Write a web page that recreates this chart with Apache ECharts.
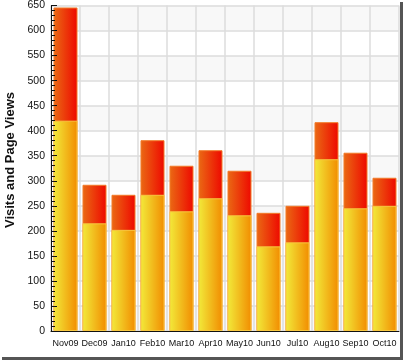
<!DOCTYPE html>
<html>
<head>
<meta charset="utf-8">
<script src="https://cdn.jsdelivr.net/npm/echarts@6/dist/echarts.min.js"></script>
<style>html,body{margin:0;padding:0;background:#fff}#c{width:404px;height:363px}</style>
</head>
<body>
<div id="c"></div>
<script>
const categories = ['Nov09','Dec09','Jan10','Feb10','Mar10','Apr10','May10','Jun10','Jul10','Aug10','Sep10','Oct10'];
const pageViews = [646, 292, 272, 381, 330, 361, 320, 236, 250, 417, 356, 306];
const visits = [420, 215, 202, 272, 239, 265, 231, 169, 177, 343, 245, 250];
const yTicks = [0, 650, 50];

const chart = echarts.init(document.getElementById('c'), null, {renderer: 'canvas'});
const grad = (a, b) => new echarts.graphic.LinearGradient(0, 0, 1, 0, [{offset: 0, color: a}, {offset: 1, color: b}]);
const gridLeft = 51, gridRight = 5;
chart.setOption({
  animation: false,
  textStyle: {fontFamily: 'Liberation Sans, Arial, sans-serif'},
  grid: {left: gridLeft, right: gridRight, top: 4, bottom: 32},
  xAxis: {
    type: 'category',
    data: categories,
    axisLine: {lineStyle: {color: '#111', width: 1}},
    axisTick: {inside: true, length: 5, interval: 0, lineStyle: {color: '#333'}},
    splitLine: {show: true, interval: 0, lineStyle: {color: '#dddddd', width: 1.5}},
    axisLabel: {color: '#111', fontSize: 9, margin: 8, interval: 0}
  },
  yAxis: [{
    type: 'value',
    min: yTicks[0], max: yTicks[1], interval: yTicks[2],
    axisLine: {show: true, lineStyle: {color: '#111', width: 1}},
    axisTick: {show: false},
    splitLine: {show: true, lineStyle: {color: '#dddddd', width: 1.5}},
    splitArea: {show: true, areaStyle: {color: ['#f8f8f8', '#ffffff']}},
    axisLabel: {color: '#111', fontSize: 10.5, margin: 6}
  }, {
    type: 'value', position: 'right', offset: -(404 - gridLeft - gridRight), z: 5,
    min: yTicks[0], max: yTicks[1], interval: yTicks[2],
    axisLine: {show: false},
    axisTick: {show: true, length: 6, lineStyle: {color: '#111'}},
    minorTick: {show: true, splitNumber: 5, length: 4, lineStyle: {color: '#111'}},
    splitLine: {show: false},
    axisLabel: {show: false}
  }],
  series: [
    {
      name: 'Page Views', type: 'bar', data: pageViews, barWidth: 24, barGap: '-100%',
      itemStyle: {color: grad('#ea6a14', '#ee0800'), borderColor: '#f27a28', borderWidth: 1}
    },
    {
      name: 'Visits', type: 'bar', data: visits, barWidth: 24,
      itemStyle: {color: grad('#f2ea3a', '#f28c00'), borderColor: '#f8c840', borderWidth: 1}
    }
  ],
  graphic: [
    {type: 'text', x: 10, y: 160, rotation: Math.PI / 2,
     style: {text: 'Visits and Page Views', font: 'bold 13px Liberation Sans, Arial, sans-serif', fill: '#111', textAlign: 'center', textVerticalAlign: 'middle'}},
    {type: 'rect', shape: {x: 400, y: 2, width: 3, height: 358}, style: {fill: '#555'}},
    {type: 'rect', shape: {x: 2, y: 357, width: 401, height: 3}, style: {fill: '#555'}}
  ]
});
</script>
</body>
</html>
